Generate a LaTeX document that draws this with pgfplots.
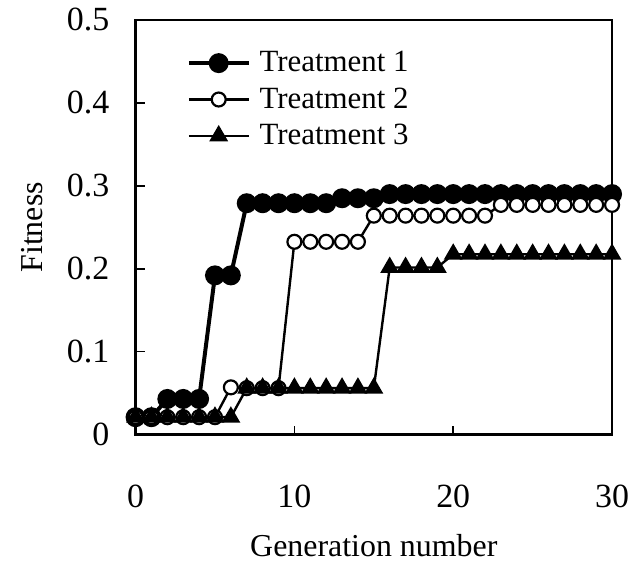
\documentclass[border=0pt]{standalone}
\usepackage{fontspec}
\setmainfont{Liberation Serif}
\usepackage{pgfplots}
\pgfplotsset{compat=1.18}

\pgfplotstableread{
x y
0 0.021
1 0.021
2 0.043
3 0.043
4 0.043
5 0.192
6 0.192
7 0.279
8 0.279
9 0.279
10 0.279
11 0.279
12 0.279
13 0.285
14 0.285
15 0.285
16 0.290
17 0.290
18 0.290
19 0.290
20 0.290
21 0.290
22 0.290
23 0.290
24 0.290
25 0.290
26 0.290
27 0.290
28 0.290
29 0.290
30 0.290
}\tone

\pgfplotstableread{
x y
0 0.021
1 0.021
2 0.021
3 0.021
4 0.021
5 0.021
6 0.057
7 0.056
8 0.056
9 0.056
10 0.2325
11 0.2325
12 0.2325
13 0.2325
14 0.2325
15 0.264
16 0.264
17 0.264
18 0.264
19 0.264
20 0.264
21 0.264
22 0.264
23 0.277
24 0.277
25 0.277
26 0.277
27 0.277
28 0.277
29 0.277
30 0.277
}\ttwo

\pgfplotstableread{
x y
0 0.021
1 0.021
2 0.021
3 0.021
4 0.021
5 0.021
6 0.021
7 0.056
8 0.056
9 0.056
10 0.056
11 0.056
12 0.056
13 0.056
14 0.056
15 0.056
16 0.2015
17 0.2015
18 0.2015
19 0.2015
20 0.2175
21 0.2175
22 0.2175
23 0.2175
24 0.2175
25 0.2175
26 0.2175
27 0.2175
28 0.2175
29 0.2175
30 0.2175
}\tthree

\begin{document}
\begin{tikzpicture}
\begin{axis}[
  scale only axis,
  width=239pt, height=208pt,
  xmin=0, xmax=30, ymin=0, ymax=0.5,
  xtick={0,10,20,30},
  ytick={0,0.1,0.2,0.3,0.4,0.5},
  yticklabels={0,0.1,0.2,0.3,0.4,0.5},
  tick pos=left,
  tick align=inside,
  major tick length=4.5pt,
  tick style={black, line width=0.8pt},
  axis line style={line width=1.3pt},
  font=\fontsize{16}{19}\selectfont,
  tick label style={font=\fontsize{17}{20}\selectfont},
  /pgf/number format/assume math mode=true,
  xticklabel style={inner sep=0pt, anchor=north, yshift=-25pt},
  yticklabel style={inner sep=0pt, anchor=east, xshift=-13pt},
  xlabel={Generation number},
  ylabel={Fitness},
  xlabel style={at={(axis description cs:0.5,-0.267)}, anchor=center},
  ylabel style={at={(axis description cs:-0.2176,0.5)}, anchor=center},
  clip=false,
  legend cell align=left,
  legend style={at={(axis description cs:0.1067,0.925)}, anchor=north west,
    draw=none, fill=none, inner sep=0pt, row sep=6.5pt, column sep=4.5pt,
    nodes={inner sep=0pt}, font=\fontsize{15.5}{18}\selectfont},
  legend image code/.code={
    \draw[mark repeat=2,mark phase=2,#1] plot coordinates {(0pt,0pt)(15pt,0pt)(30pt,0pt)};
  },
]
\addplot[black, line width=2pt, mark=*, mark size=4pt, mark options={solid, fill=black}] table {\tone};
\addlegendentry{Treatment 1}
\addplot[black, line width=1.2pt, mark=*, mark size=3.5pt, mark options={solid, fill=white, line width=1.1pt}] table {\ttwo};
\addlegendentry{Treatment 2}
\addplot[black, line width=1.2pt, mark=triangle*, mark size=4.3pt, mark options={solid, fill=black}] table {\tthree};
\addlegendentry{Treatment 3}
\end{axis}
\path ([shift={(-68pt,-67pt)}]current axis.south west) rectangle ([shift={(8pt,10pt)}]current axis.north east);
\end{tikzpicture}
\end{document}
